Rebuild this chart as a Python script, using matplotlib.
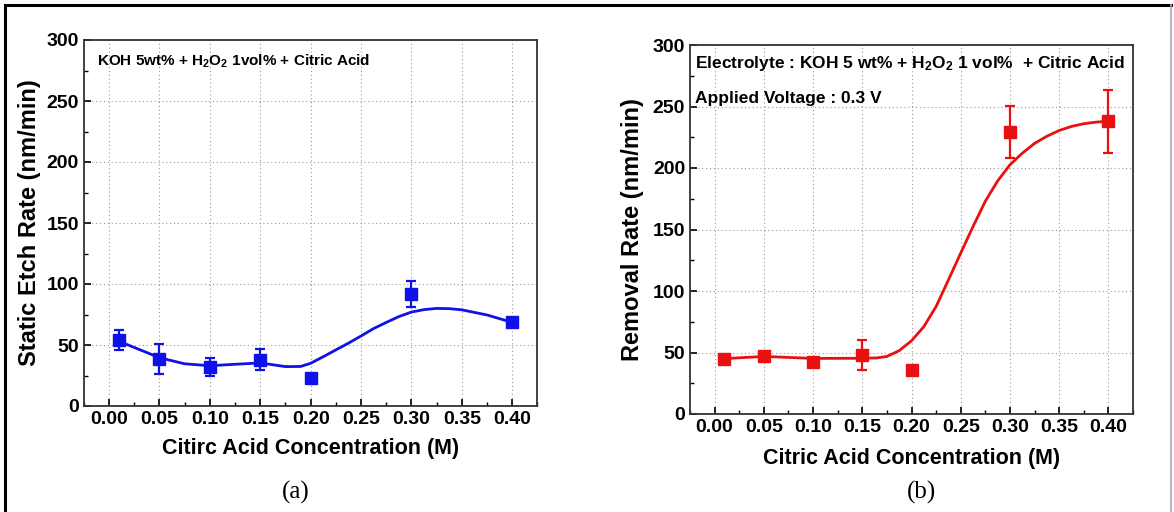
import matplotlib
matplotlib.use("Agg")
import matplotlib.pyplot as plt
from matplotlib.ticker import MultipleLocator, FormatStrFormatter
from matplotlib.lines import Line2D

plt.rcParams['font.family'] = ['Liberation Sans', 'DejaVu Sans']
plt.rcParams['mathtext.default'] = 'regular'

# ---- data (a) static etch rate ----
conc = [0.01, 0.05, 0.10, 0.15, 0.20, 0.30, 0.40]
etch_rate = [54, 38.5, 32, 38, 23, 92, 69]
etch_err = [8, 12, 7, 8.5, 1.5, 10.6, 3]
etch_fit_x = [0.01, 0.025, 0.05, 0.075, 0.10, 0.125, 0.15, 0.165, 0.175, 0.19, 0.20, 0.215,
              0.225, 0.2375, 0.25, 0.2625, 0.275, 0.2875, 0.30, 0.3125, 0.325, 0.3375,
              0.35, 0.375, 0.40]
etch_fit_y = [53, 48, 39.6, 34.6, 33, 34.2, 35.3, 33.5, 32.3, 32.4, 35, 41.5,
              46, 51.5, 57.4, 63.5, 68.5, 73.3, 77, 79, 80, 79.8,
              78.8, 74.6, 68.5]

# ---- data (b) removal rate ----
removal_rate = [45, 47.5, 42.5, 48, 36, 229.5, 238]
removal_err = [2, 2, 1.5, 12.5, 1.5, 21, 25.7]
removal_fit_x = [0.01, 0.05, 0.10, 0.15, 0.165, 0.175, 0.1875, 0.20, 0.2125, 0.225, 0.2375,
                 0.25, 0.2625, 0.275, 0.2875, 0.30, 0.3125, 0.325, 0.3375, 0.35,
                 0.3625, 0.375, 0.3875, 0.40]
removal_fit_y = [45, 46.8, 45.2, 45.3, 45.6, 46.8, 51.5, 59.5, 71, 87.4, 109,
                 130.8, 152.4, 173, 189.5, 202.6, 212, 220, 225.8, 230.5,
                 233.8, 236, 237.3, 238]

xticks = [0.00, 0.05, 0.10, 0.15, 0.20, 0.25, 0.30, 0.35, 0.40]

fig = plt.figure(figsize=(11.74, 5.12), dpi=100)

ax1 = fig.add_axes([83.8/1174, 1-406/512, (537.5-83.8)/1174, (406-40)/512])
ax2 = fig.add_axes([690/1174, 1-414/512, (1133-690)/1174, (414-45)/512])

blue = '#1010e8'
red = '#e81010'

def style(ax):
    ax.set_xlim(-0.025, 0.425)
    ax.set_ylim(0, 300)
    ax.set_xticks(xticks)
    ax.xaxis.set_minor_locator(MultipleLocator(0.025))
    ax.yaxis.set_major_locator(MultipleLocator(50))
    ax.yaxis.set_minor_locator(MultipleLocator(25))
    ax.xaxis.set_major_formatter(FormatStrFormatter('%.2f'))
    ax.tick_params(which='both', direction='in', top=False, right=False)
    ax.tick_params(which='major', length=5, width=1.2, labelsize=14)
    ax.tick_params(which='minor', length=3, width=1.0)
    for lab in ax.get_xticklabels() + ax.get_yticklabels():
        lab.set_fontweight('bold')
    ax.grid(True, which='major', color='#999999', linestyle=(0, (1, 2.5)), linewidth=0.8)
    ax.set_axisbelow(True)
    for s in ax.spines.values():
        s.set_linewidth(1.3)
        s.set_color('#333333')

style(ax1)
ax1.plot(etch_fit_x, etch_fit_y, color=blue, lw=2.0, zorder=3)
ax1.errorbar(conc, etch_rate, yerr=etch_err, fmt='s', color=blue, ms=8,
             elinewidth=1.6, capsize=3.5, capthick=1.6, zorder=4)
ax1.set_xlabel('Citirc Acid Concentration (M)', fontsize=15.5, fontweight='bold', labelpad=7)
ax1.set_ylabel('Static Etch Rate (nm/min)', fontsize=17, fontweight='bold', labelpad=4)
ax1.text(0.03, 0.943, 'KOH 5wt% + H$_2$O$_2$ 1vol% + Citric Acid', transform=ax1.transAxes,
         fontsize=11, fontweight='bold', va='center', ha='left')

style(ax2)
ax2.plot(removal_fit_x, removal_fit_y, color=red, lw=2.0, zorder=3)
ax2.errorbar(conc, removal_rate, yerr=removal_err, fmt='s', color=red, ms=8,
             elinewidth=1.6, capsize=3.5, capthick=1.6, zorder=4)
ax2.set_xlabel('Citric Acid Concentration (M)', fontsize=15.5, fontweight='bold', labelpad=9)
ax2.set_ylabel('Removal Rate (nm/min)', fontsize=17, fontweight='bold', labelpad=6)
ax2.text(0.012, 0.951, 'Electrolyte : KOH 5 wt% + H$_2$O$_2$ 1 vol%  + Citric Acid',
         transform=ax2.transAxes, fontsize=12.5, fontweight='bold', va='center', ha='left')
ax2.text(0.012, 0.856, 'Applied Voltage : 0.3 V', transform=ax2.transAxes,
         fontsize=12.5, fontweight='bold', va='center', ha='left')

fig.text(296/1174, 1-492/512, '(a)', fontsize=18, family='Liberation Serif', ha='center', va='center')
fig.text(921/1174, 1-492/512, '(b)', fontsize=18, family='Liberation Serif', ha='center', va='center')

# outer frame
fig.add_artist(Line2D([5/1174, 1171/1174], [1-5/512, 1-5/512], color='black', lw=2.2, transform=fig.transFigure))
fig.add_artist(Line2D([5/1174, 5/1174], [1-5/512, 0], color='black', lw=2.2, transform=fig.transFigure))
fig.add_artist(Line2D([1171/1174, 1171/1174], [1-5/512, 0], color='#aaaaaa', lw=1.2, transform=fig.transFigure))

fig.savefig('out.png', dpi=100)
